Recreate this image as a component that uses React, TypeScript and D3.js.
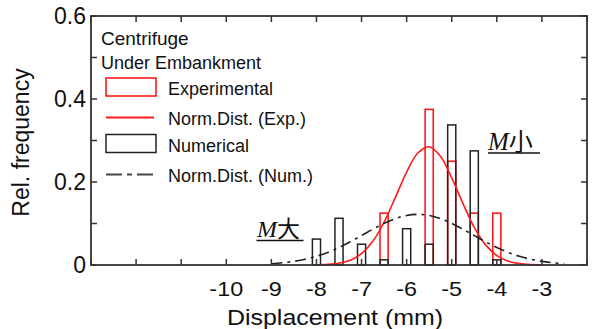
import React from "react";
import * as d3 from "d3";

// ---- data ----
const binCenters = [-8, -7.5, -7, -6.5, -6, -5.5, -5, -4.5, -4];
const experimentalFreq = [0, 0, 0, 0.125, 0, 0.375, 0.25, 0.125, 0.125];
const numericalFreq = [0.0625, 0.1125, 0.05, 0.0125, 0.0875, 0.05, 0.3375, 0.275, 0.0125];

const expCurveX = [-8, -7.75, -7.5, -7.25, -7, -6.75, -6.5, -6.25, -6, -5.75, -5.5, -5.25, -5, -4.75, -4.5, -4.25, -4, -3.75, -3.5, -3.25, -3];
const expCurveY = [0.0004, 0.0014, 0.0043, 0.0116, 0.0275, 0.057, 0.103, 0.163, 0.224, 0.27, 0.285, 0.262, 0.21, 0.148, 0.0905, 0.0485, 0.0227, 0.0093, 0.0033, 0.001, 0.0003];

const numCurveX = [-9, -8.75, -8.5, -8.25, -8, -7.75, -7.5, -7.25, -7, -6.75, -6.5, -6.25, -6, -5.75, -5.5, -5.25, -5, -4.75, -4.5, -4.25, -4, -3.75, -3.5, -3.25, -3, -2.75, -2.5];
const numCurveY = [0.0031, 0.0054, 0.0088, 0.0139, 0.021, 0.0304, 0.0422, 0.0559, 0.0709, 0.0862, 0.1004, 0.1119, 0.1194, 0.122, 0.1194, 0.1119, 0.1004, 0.0862, 0.0709, 0.0559, 0.0422, 0.0304, 0.021, 0.0139, 0.0088, 0.0054, 0.0031];

const xTickValues = [-13, -12, -11, -10, -9, -8, -7, -6, -5, -4, -3, -2];
const xTickLabels = ["-10", "-9", "-8", "-7", "-6", "-5", "-4", "-3"];
const yTickValues = [0, 0.1, 0.2, 0.3, 0.4, 0.5, 0.6];
const yTickLabels = ["0", "0.2", "0.4", "0.6"];

const legendTitle = ["Centrifuge", "Under Embankment"];
const legendLabels = ["Experimental", "Norm.Dist. (Exp.)", "Numerical", "Norm.Dist. (Num.)"];

const RED = "#ff1a1a";
const DARK = "#222";
const SANS = "'Liberation Sans', Arial, Helvetica, sans-serif";

export default function App() {
  const W = 593, H = 329;
  const x = d3.scaleLinear().domain([-13, -2]).range([91, 587]);
  const y = d3.scaleLinear().domain([0, 0.6]).range([265, 16]);
  const barW = x(0.18) - x(0);
  const tick = 6;

  const expLine = d3.line<number>()
    .x((_, i) => x(expCurveX[i]))
    .y((d) => y(d))
    .curve(d3.curveCatmullRom);
  const numLine = d3.line<number>()
    .x((_, i) => x(numCurveX[i]))
    .y((d) => y(d))
    .curve(d3.curveCatmullRom);

  const [x0, x1] = x.range();
  const [yb, yt] = y.range();

  return (
    <svg width={W} height={H} style={{ position: "absolute", left: 0, top: 0, background: "#fff" }} fontFamily={SANS}>
      {/* experimental bars (red) */}
      {binCenters.map((c, i) =>
        experimentalFreq[i] > 0 ? (
          <rect key={"e" + i} x={x(c) - barW / 2} y={y(experimentalFreq[i])} width={barW}
            height={y(0) - y(experimentalFreq[i])} fill="none" stroke={RED} strokeWidth={1.6} />
        ) : null
      )}
      {/* numerical bars (black) */}
      {binCenters.map((c, i) =>
        numericalFreq[i] > 0 ? (
          <rect key={"n" + i} x={x(c) - barW / 2} y={y(numericalFreq[i])} width={barW}
            height={y(0) - y(numericalFreq[i])} fill="none" stroke={DARK} strokeWidth={1.5} />
        ) : null
      )}
      {/* curves */}
      <path d={expLine(expCurveY) || ""} fill="none" stroke={RED} strokeWidth={1.6} />
      <path d={numLine(numCurveY) || ""} fill="none" stroke={DARK} strokeWidth={1.6} strokeDasharray="11,5,3,5" />

      {/* frame */}
      <rect x={x0} y={yt} width={x1 - x0} height={yb - yt} fill="none" stroke="#333" strokeWidth={1.8} />
      {/* x ticks (inward, bottom & top) */}
      {xTickValues.map((v) => (
        <g key={"xt" + v}>
          <line x1={x(v)} x2={x(v)} y1={yb} y2={yb - tick} stroke="#333" strokeWidth={1.5} />
          <line x1={x(v)} x2={x(v)} y1={yt} y2={yt + tick} stroke="#333" strokeWidth={1.5} />
        </g>
      ))}
      {/* y ticks (inward, left & right) */}
      {yTickValues.map((v) => (
        <g key={"yt" + v}>
          <line x1={x0} x2={x0 + tick} y1={y(v)} y2={y(v)} stroke="#333" strokeWidth={1.5} />
          <line x1={x1} x2={x1 - tick} y1={y(v)} y2={y(v)} stroke="#333" strokeWidth={1.5} />
        </g>
      ))}
      {/* x tick labels */}
      {xTickLabels.map((t) => {
        const cx = x(+t);
        return (
          <text key={"xl" + t} transform={`translate(${cx},296) scale(1.17,1)`} textAnchor="middle" fontSize={20} fill="#111">
            {t}
          </text>
        );
      })}
      {/* y tick labels */}
      {yTickLabels.map((t) => (
        <text key={"yl" + t} x={86} y={y(+t)} textAnchor="end" dominantBaseline="central" fontSize={23} fill="#111">
          {t}
        </text>
      ))}
      {/* axis titles */}
      <text x={335} y={325} textAnchor="middle" fontSize={22} fill="#111" textLength={216} lengthAdjust="spacingAndGlyphs">
        Displacement (mm)
      </text>
      <text transform="translate(29,142.5) rotate(-90)" textAnchor="middle" fontSize={23} fill="#111">
        Rel. frequency
      </text>

      {/* legend */}
      <text x={101} y={45} fontSize={19} fill="#111">{legendTitle[0]}</text>
      <text x={101} y={69} fontSize={18} fill="#111">{legendTitle[1]}</text>
      <rect x={106} y={78} width={50} height={18} fill="none" stroke={RED} strokeWidth={1.6} />
      <text x={168} y={95} fontSize={18} fill="#111">{legendLabels[0]}</text>
      <line x1={106} x2={154} y1={117.5} y2={117.5} stroke={RED} strokeWidth={1.8} />
      <text x={168} y={125} fontSize={18} fill="#111">{legendLabels[1]}</text>
      <rect x={106} y={134.5} width={50} height={18} fill="none" stroke={DARK} strokeWidth={1.5} />
      <text x={168} y={152} fontSize={18} fill="#111">{legendLabels[2]}</text>
      <line x1={106} x2={154} y1={174.5} y2={174.5} stroke="#444" strokeWidth={1.8} strokeDasharray="16,5,5,5" />
      <text x={168} y={182} fontSize={18} fill="#111">{legendLabels[3]}</text>

      {/* annotations */}
      <g fill="#111">
        <text x={488} y={150} fontSize={25}>
          <tspan fontFamily="'Liberation Serif', 'DejaVu Serif', serif" fontStyle="italic">M</tspan>
          <tspan fontFamily="'Noto Sans CJK JP', sans-serif" fontSize={24}>小</tspan>
        </text>
        <line x1={488} x2={540} y1={153} y2={153} stroke="#111" strokeWidth={1.3} />
        <text x={257} y={236.5} fontSize={24}>
          <tspan fontFamily="'Liberation Serif', 'DejaVu Serif', serif" fontStyle="italic">M</tspan>
          <tspan fontFamily="'Noto Sans CJK JP', sans-serif" fontSize={23}>大</tspan>
        </text>
        <line x1={256.5} x2={303.5} y1={240.5} y2={240.5} stroke="#111" strokeWidth={1.3} />
      </g>
    </svg>
  );
}
